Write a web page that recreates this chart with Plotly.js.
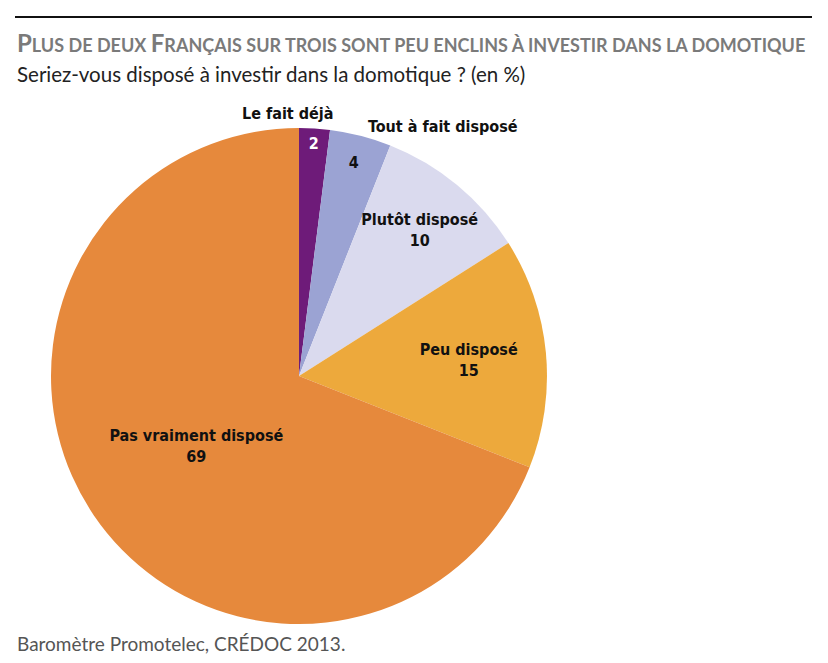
<!DOCTYPE html>
<html><head><meta charset="utf-8">
<script src="https://cdn.plot.ly/plotly-3.0.1.min.js"></script>
<style>body{margin:0;background:#fff}#chart{width:828px;height:663px}</style>
</head><body><div id="chart"></div>
<script>
const categories = ["Le fait déjà", "Tout à fait disposé", "Plutôt disposé", "Peu disposé", "Pas vraiment disposé"];
const values = [2, 4, 10, 15, 69];
const colors = ["#6E1B79", "#9BA3D3", "#DADAEE", "#EDA93C", "#E6893C"];
const textColors = ["#ffffff", "#111111", "#111111", "#111111", "#111111"];
const templates = ["%{value}", "%{value}", "%{label}<br>%{value}", "%{label}<br>%{value}", "%{label}<br>%{value}"];
const outsideLabels = [categories[0], categories[1]];

const sc = (big, small) => big + '<span style="font-size:18px">' + small + '</span>';
const titleText = sc('P','LUS DE DEUX ') + sc('F','RANÇAIS SUR TROIS SONT PEU ENCLINS À INVESTIR DANS LA DOMOTIQUE');
const labelFont = "DejaVu Sans Condensed, Liberation Sans Narrow, sans-serif";

const trace = {
  type: 'pie',
  labels: categories,
  values: values,
  sort: false,
  direction: 'clockwise',
  rotation: 0,
  marker: {colors: colors, line: {width: 0}},
  texttemplate: templates,
  textposition: 'inside',
  insidetextorientation: 'horizontal',
  textfont: {family: labelFont, size: 16, color: textColors, weight: 'bold'},
  hoverinfo: 'none',
  showlegend: false,
  domain: {x: [(299-248)/828, (299+248)/828], y: [1-(376+248)/663, 1-(376-248)/663]}
};

const layout = {
  width: 828, height: 663,
  margin: {l: 0, r: 0, t: 0, b: 0},
  paper_bgcolor: '#fff',
  uniformtext: {mode: 'show', minsize: 16},
  shapes: [{type: 'line', xref: 'paper', yref: 'paper', x0: 15/828, x1: 812/828, y0: 1-17/663, y1: 1-17/663, line: {color: '#111', width: 2}}],
  annotations: [
    {xref: 'paper', yref: 'paper', x: 15/828, y: 1-42/663, xanchor: 'left', yanchor: 'middle', showarrow: false,
     text: '<b>' + titleText + '</b>', font: {family: 'Lato, sans-serif', size: 24, color: '#7a7a7a'}},
    {xref: 'paper', yref: 'paper', x: 15/828, y: 1-74/663, xanchor: 'left', yanchor: 'middle', showarrow: false,
     text: 'Seriez-vous disposé à investir dans la domotique ? (en %)', font: {family: 'Lato, sans-serif', size: 20.5, color: '#222'}},
    {xref: 'paper', yref: 'paper', x: 15/828, y: 1-643/663, xanchor: 'left', yanchor: 'middle', showarrow: false,
     text: 'Baromètre Promotelec, CRÉDOC 2013.', font: {family: 'Lato, sans-serif', size: 19, color: '#555'}},
    {xref: 'paper', yref: 'paper', x: 287/828, y: 1-113/663, xanchor: 'center', yanchor: 'middle', showarrow: false,
     text: '<b>' + outsideLabels[0] + '</b>', font: {family: labelFont, size: 16, color: '#111'}},
    {xref: 'paper', yref: 'paper', x: 443/828, y: 1-127/663, xanchor: 'center', yanchor: 'middle', showarrow: false,
     text: '<b>' + outsideLabels[1] + '</b>', font: {family: labelFont, size: 16, color: '#111'}}
  ]
};

Plotly.newPlot('chart', [trace], layout, {displayModeBar: false, staticPlot: true});
</script></body></html>
